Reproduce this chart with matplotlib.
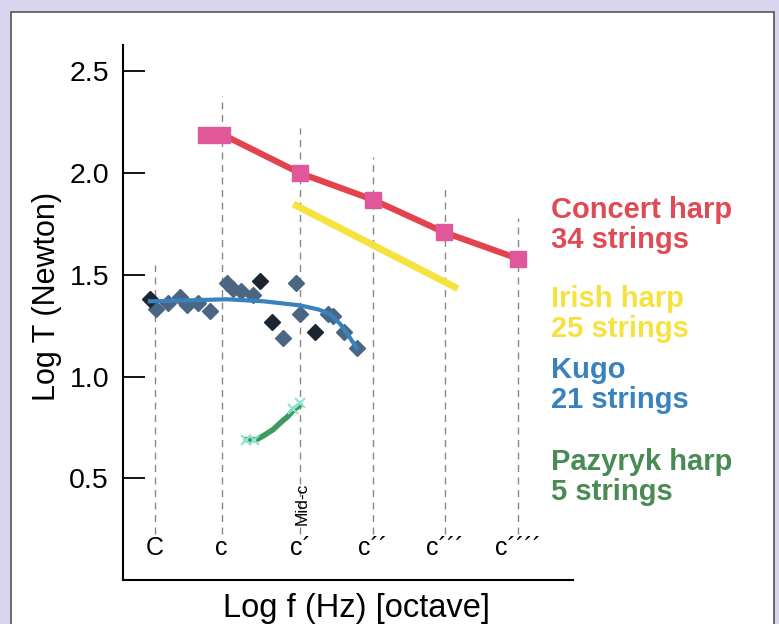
import numpy as np
import matplotlib.pyplot as plt
from matplotlib.patches import Rectangle

plt.rcParams['font.family'] = ['Liberation Sans', 'DejaVu Sans']

# note positions on the octave axis
note_x = [0, 0.92, 2, 3, 4, 5]
note_labels = ["C", "c", "c\u00b4", "c\u00b4\u00b4", "c\u00b4\u00b4\u00b4", "c\u00b4\u00b4\u00b4\u00b4"]
note_line_top = [1.55, 2.38, 2.22, 2.08, 1.93, 1.78]

# concert harp, 34 strings
concert_x = [0.70, 0.93, 2.0, 3.0, 3.98, 5.0]
concert_y = [2.19, 2.19, 2.0, 1.87, 1.71, 1.58]

# irish harp, 25 strings
irish_x = [1.95, 4.13]
irish_y = [1.84, 1.44]

# kugo, 21 strings: measured points and fitted curve
kugo_x = [0.02, 0.18, 0.34, 0.44, 0.60, 0.76, 0.99, 1.08, 1.19, 1.35, 1.77, 1.95, 2.0, 2.39, 2.46, 2.60, 2.78]
kugo_y = [1.33, 1.36, 1.39, 1.35, 1.36, 1.32, 1.46, 1.43, 1.42, 1.40, 1.19, 1.46, 1.31, 1.31, 1.30, 1.22, 1.14]
kugo_dark_x = [-0.07, 1.45, 1.61, 2.21]
kugo_dark_y = [1.38, 1.47, 1.27, 1.22]
kugo_fit_x = [-0.07, 0.5, 0.99, 1.5, 2.0, 2.25, 2.4, 2.55, 2.67, 2.78]
kugo_fit_y = [1.37, 1.375, 1.38, 1.37, 1.35, 1.33, 1.31, 1.26, 1.20, 1.14]

# pazyryk harp, 5 strings
paz_x = [1.26, 1.40, 1.50, 1.63, 1.75, 1.82, 1.92, 2.0]
paz_y = [0.69, 0.69, 0.71, 0.74, 0.78, 0.80, 0.84, 0.86]
paz_mark_x = [1.26, 1.36, 1.90, 2.0]
paz_mark_y = [0.69, 0.69, 0.84, 0.87]

fig = plt.figure(figsize=(7.79, 6.24), dpi=100)
fig.patch.set_facecolor("#d9d5ee")
fig.patches.append(Rectangle((11/779, -0.05), (774-11)/779, 1.05 - 12/624,
                             transform=fig.transFigure, facecolor="white",
                             edgecolor="#555555", linewidth=1.2, zorder=-10))

ax = fig.add_axes([123/779, 1-580/624, 450/779, 535/624])
ax.set_zorder(5)
ax.set_facecolor("none")
ax.set_xlim(-0.44, 5.76)
ax.set_ylim(0.0, 2.63)

for x, top in zip(note_x, note_line_top):
    ax.plot([x, x], [0.225, top], color="#888888", lw=1, ls=(0, (5, 4)), zorder=1)

ax.plot(concert_x, concert_y, color="#e4434e", lw=4.5, zorder=3)
ax.plot(concert_x, concert_y, ls="none", marker="s", ms=11, color="#e0589a", zorder=4)

ax.plot(irish_x, irish_y, color="#f6e23e", lw=5, zorder=3)

ax.plot(kugo_x, kugo_y, ls="none", marker="D", ms=8, color="#4b6683", zorder=3)
ax.plot(kugo_dark_x, kugo_dark_y, ls="none", marker="D", ms=8, color="#1c2530", zorder=3)
ax.plot(kugo_fit_x, kugo_fit_y, color="#3a82bd", lw=3, zorder=4)

ax.plot(paz_x, paz_y, color="#3f9a62", lw=4, zorder=3)
ax.plot(paz_mark_x, paz_mark_y, ls="none", marker="x", ms=7, mew=1.5, color="#8ee6cf", zorder=4)

ax.text(2.03, 0.373, "Mid-c", rotation=90, fontsize=12.5, ha="center", va="center")

ax.spines["top"].set_visible(False)
ax.spines["right"].set_visible(False)
ax.spines["left"].set_linewidth(1.5)
ax.spines["bottom"].set_linewidth(1.5)

ax.set_yticks([0.5, 1.0, 1.5, 2.0, 2.5])
ax.set_yticklabels(["0.5", "1.0", "1.5", "2.0", "2.5"])
ax.tick_params(axis="y", direction="in", length=16, width=1.3, labelsize=20.5, pad=10)
ax.set_xticks(note_x)
ax.set_xticklabels(note_labels)
ax.tick_params(axis="x", length=0, labelsize=18, pad=-32)

ax.set_ylabel("Log T (Newton)", fontsize=22)
ax.yaxis.set_label_coords(-0.135, 0.53)
ax.set_xlabel("Log f (Hz) [octave]", fontsize=23.5)
ax.xaxis.set_label_coords(0.52, -0.025)

labels = [("Concert harp\n34 strings", "#e04a55", 0.640),
          ("Irish harp\n25 strings", "#f6e23e", 0.497),
          ("Kugo\n21 strings", "#3a82bd", 0.383),
          ("Pazyryk harp\n5 strings", "#4a8a55", 0.236)]
for txt, col, yy in labels:
    fig.text(551/779, yy, txt, color=col, fontsize=21, fontweight="bold",
             va="center", ha="left", linespacing=1.1, zorder=6)

fig.savefig("out.png", dpi=100, facecolor=fig.get_facecolor())
